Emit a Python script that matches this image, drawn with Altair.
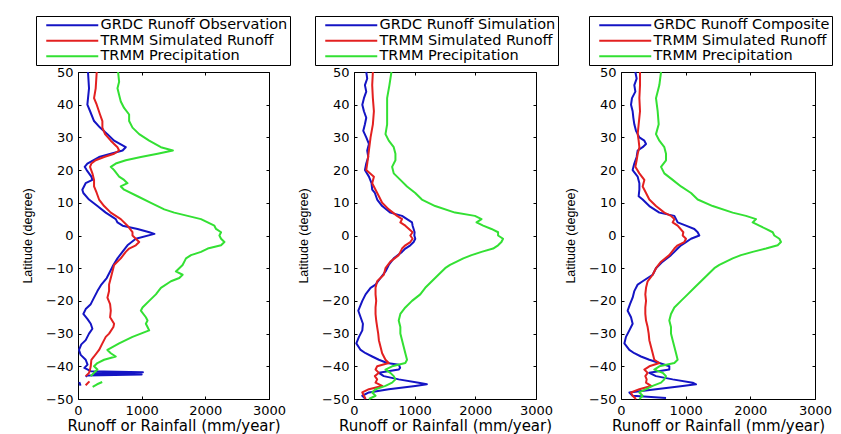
import altair as alt
import pandas as pd

# ---------------- data (latitude, mm/year); None = gap in the curve ----------------
NAMES_1 = ["GRDC Runoff Observation", "TRMM Simulated Runoff", "TRMM Precipitation"]
NAMES_2 = ["GRDC Runoff Simulation", "TRMM Simulated Runoff", "TRMM Precipitation"]
NAMES_3 = ["GRDC Runoff Composite", "TRMM Simulated Runoff", "TRMM Precipitation"]
COLORS = ["#1414c4", "#e32020", "#33e033"]

X_TICKS = [0, 1000, 2000, 3000]
Y_TICKS = [-50, -40, -30, -20, -10, 0, 10, 20, 30, 40, 50]

P1_OBS = [(50,157),(45,173),(40,147),(38,190),(35,252),(33,346),(31,462),(29,567),(27,750),(26,700),
          (25,515),(24,330),(22,147),(21,105),(20,136),(18,210),(17,226),(16,120),(14,68),(13,84),
          (11,173),(9,305),(7,436),(5,593),(4,620),(3,700),(2,935),(1,1120),(0.5,1200),(-1,908),
          (-3,777),(-5,698),(-7,620),(-9,556),(-11,504),(-13,451),(-15,367),(-17,305),(-19,252),(-21,200),
          (-22.5,121),(-24,84),(-25.5,147),(-27,200),(-28.5,226),(-30,173),(-32,121),(-33.3,52),(-35,16),
          (-36.5,42),(-38,121),(-39.5,150),(-40.5,100),(-41.5,200),(-41.8,1020),(-42.2,250),(-42.5,1000),
          (-42.8,150),(-43.2,120),None,(-44.8,20),(-45.9,40)]
P1_SIM = [(50,294),(45,278),(42,252),(40,294),(37,346),(35,383),(33,383),(31,425),(29,515),(27,620),
          (26,646),(25,567),(24,410),(23,278),(22,210),(21,189),(19,226),(17,252),(15,252),(13,294),
          (11,331),(9,410),(7,515),(5,672),(3,777),(1,856),(0,856),(-1,908),(-2,961),(-3,908),(-4,803),
          (-5,750),(-7,672),(-9,567),(-11,541),(-13,515),(-15,488),(-17,488),(-19,462),(-21,504),(-23,515),
          (-25,504),(-27,567),(-28,556),(-30,488),(-31,436),(-33,383),(-35,331),(-37,252),(-38,210),
          (-40,200),(-41,189),(-42,173),(-43,121),None,(-44.6,180),(-45.8,120)]
P1_PRE = [(50,630),(47,646),(45,620),(43,646),(41,672),(39,724),(37,803),(35,803),(33,856),(31,961),
          (29,1118),(27,1302),(26,1490),(25,1250),(24,987),(23,751),(22,593),(21,515),(20,567),(18,646),
          (17,724),(16,777),(15,672),(14,724),(12,935),(10,1145),(8,1355),(7,1512),(6,1722),(5,1932),
          (4,2037),(3,2142),(2,2168),(1,2247),(0,2221),(-1,2247),(-2,2300),(-3,2247),(-4,2037),(-5,1932),
          (-6,1775),(-7,1696),(-9,1643),(-11,1538),(-12,1643),(-13,1591),(-14,1460),(-16,1302),(-18,1223),
          (-20,1118),(-22,1013),(-23,987),(-25,1066),(-26,1092),(-27,1066),(-28,1092),(-29,1118),(-30,987),
          (-31,856),(-33,646),(-35,462),(-36,515),(-37,593),(-38,410),(-39,305),(-40,252),(-41,305),
          (-42,252),(-43,200),None,(-44.8,380),(-45.5,300),(-46.3,230)]

P2_OBS = [(50,202),(48,218),(46,180),(44,202),(42,164),(40,137),(38,164),(36,202),(34,180),(32,153),
          (30,202),(28,246),(26,218),(24,235),(22,202),(20,180),(18,246),(16,289),(14,300),(13,344),
          (11,382),(9,464),(7,600),(6,792),(5,874),(4,956),(3,966),(2,983),(1,999),(0,994),(-1,1010),
          (-2,983),(-3,928),(-4,846),(-5,792),(-7,655),(-9,573),(-11,519),(-13,437),(-15,355),(-16,273),
          (-18,191),(-20,137),(-22,93),(-23,71),(-25,109),(-27,147),(-29,137),(-31,82),(-33,38),(-35,109),
          (-36,191),(-37,300),(-38,410),(-39,546),(-39.5,740),(-40.5,760),(-41,737),(-42,410),(-43,491),
          (-44,737),(-45,1065),(-45.5,1201),(-46,1010),(-47,573),(-48,246),(-49,137),(-50,191)]
P2_SIM = [(50,311),(46,300),(42,311),(38,328),(34,311),(30,273),(26,246),(22,218),(20,202),(18,328),
          (16,300),(14,355),(12,410),(10,464),(8,573),(6,710),(5,792),(4,764),(3,846),(1,966),(0,928),
          (-1,966),(-2,928),(-3,846),(-4,792),(-6,737),(-8,600),(-10,519),(-12,491),(-14,382),(-16,355),
          (-18,355),(-20,366),(-22,355),(-24,355),(-26,366),(-28,382),(-30,399),(-32,410),(-34,437),
          (-36,464),(-38,519),(-39,573),(-40,382),(-41,355),(-42,410),(-43,344),(-44,382),(-45,355),
          (-46,464),(-47,246),(-48,137),(-49,164),(-50,191)]
P2_PRE = [(50,617),(46,584),(42,546),(38,546),(34,546),(31,519),(29,573),(27,655),(25,683),(23,683),
          (21,628),(19,655),(17,764),(15,874),(13,1010),(11,1119),(9,1338),(7,1665),(6,1993),(5,2102),
          (4,2020),(3,2129),(2,2266),(1,2375),(0,2375),(-1,2457),(-2,2430),(-3,2375),(-4,2293),(-5,2102),
          (-6,1938),(-7,1802),(-8,1693),(-9,1583),(-10,1502),(-12,1392),(-14,1283),(-16,1174),(-18,1092),
          (-20,956),(-22,846),(-24,764),(-26,737),(-28,764),(-30,764),(-32,792),(-34,819),(-36,846),
          (-38,874),(-39,846),(-40,628),(-41,519),(-42,600),(-43,655),(-44,683),(-45,628),(-46,519),
          (-47,355),(-48,300),(-49,355),(-50,246)]

P3_OBS = [(50,222),(48,242),(46,206),(44,222),(42,170),(40,155),(38,180),(36,191),(34,206),(32,232),
          (30,284),(29,361),(28,387),(27,335),(26,258),(24,242),(22,206),(20,180),(18,258),(16,284),
          (14,284),(12,273),(11,335),(9,438),(7,593),(6,825),(5,851),(4,876),(3,1005),(2,1134),(1,1186),
          (0,1211),(-1,1083),(-2,1005),(-3,928),(-4,876),(-5,825),(-6,773),(-8,644),(-10,541),(-12,490),
          (-14,335),(-15,258),(-17,206),(-19,180),(-21,139),(-23,103),(-25,155),(-27,180),(-29,129),
          (-31,77),(-33,52),(-35,129),(-36,206),(-37,309),(-38,438),(-39,593),(-40,747),(-41,747),
          (-42,438),(-43,541),(-44,799),(-45,1108),(-45.5,1160),(-46,954),(-47,541),(-48,129),(-49,180),
          (-49.7,696)]
P3_SIM = [(50,294),(46,294),(42,284),(38,294),(34,273),(31,258),(29,273),(27,284),(25,258),(23,242),
          (21,222),(19,284),(17,361),(15,335),(13,387),(11,438),(9,541),(7,670),(6,773),(5,825),(4,799),
          (3,876),(1,964),(0,954),(-1,1005),(-2,979),(-3,876),(-4,825),(-6,747),(-8,619),(-10,541),
          (-12,490),(-14,412),(-16,387),(-18,376),(-20,387),(-22,376),(-24,376),(-26,387),(-28,412),
          (-30,428),(-32,438),(-34,464),(-36,490),(-38,515),(-39,593),(-40,438),(-41,361),(-42,412),
          (-43,376),(-44,397),(-45,387),(-46,464),(-47,284),(-48,155),(-49,180),(-50,232)]
P3_PRE = [(50,619),(46,593),(42,541),(38,567),(34,583),(31,541),(29,593),(27,670),(25,696),(23,696),
          (21,619),(19,670),(17,799),(15,928),(13,1083),(11,1186),(9,1418),(7,1727),(6,1933),(5,2088),
          (4,2036),(3,2139),(2,2242),(1,2346),(0,2371),(-1,2449),(-2,2474),(-3,2423),(-4,2242),(-5,2036),
          (-6,1856),(-7,1727),(-8,1624),(-9,1521),(-10,1443),(-12,1340),(-14,1237),(-16,1134),(-18,1031),
          (-20,928),(-22,825),(-24,773),(-26,747),(-28,773),(-30,773),(-32,799),(-34,825),(-36,851),
          (-38,876),(-39,825),(-40,593),(-41,515),(-42,644),(-43,696),(-44,670),(-45,619),(-46,490),
          (-47,387),(-48,284),(-49,335),(-50,284)]


def to_df(pairs, name):
    rows, seg = [], 0
    for i, p in enumerate(pairs):
        if p is None:
            seg += 1
            continue
        rows.append({"lat": p[0], "value": p[1], "series": name, "seg": seg, "idx": i})
    return pd.DataFrame(rows)


def panel(names, series, width, legend_x):
    xs = alt.Scale(domain=[0, 3000], nice=False, zero=False)
    ys = alt.Scale(domain=[-50, 50], nice=False, zero=False)
    legend = alt.Legend(title=None, orient="none", legendX=legend_x, legendY=-56)
    color = alt.Color("series:N", scale=alt.Scale(domain=names, range=COLORS), legend=legend)

    main_x = alt.Axis(values=X_TICKS, format="d", ticks=False, domain=False, grid=False,
                      labelFlush=False, labelPadding=5, title="Runoff or Rainfall (mm/year)",
                      titlePadding=1)
    main_y = alt.Axis(values=Y_TICKS, ticks=False, domain=False, grid=False, labelFlush=False,
                      labelPadding=5, title="Latitude (degree)", titlePadding=11,
                      titleFont="Liberation Sans", titleFontSize=12.5)
    axes = [
        (main_x, main_y),
        (alt.Axis(orient="top", values=X_TICKS, labels=False, domain=False, grid=False,
                  tickSize=3, offset=-3, title=None),
         alt.Axis(orient="right", values=Y_TICKS, labels=False, domain=False, grid=False,
                  tickSize=3, offset=-3, title=None)),
        (alt.Axis(orient="bottom", values=X_TICKS, labels=False, domain=False, grid=False,
                  tickSize=3, offset=-3, title=None),
         alt.Axis(orient="left", values=Y_TICKS, labels=False, domain=False, grid=False,
                  tickSize=3, offset=-3, title=None)),
    ]
    layers = []
    for k in range(3):
        df = to_df(series[k], names[k])
        ax_x, ax_y = axes[k]
        layers.append(
            alt.Chart(df).mark_line(strokeWidth=2, strokeJoin="round").encode(
                x=alt.X("value:Q", scale=xs, axis=ax_x),
                y=alt.Y("lat:Q", scale=ys, axis=ax_y),
                color=color,
                detail="seg:N",
                order="idx:Q",
            )
        )
    return (alt.layer(*layers)
            .properties(width=width, height=327)
            .resolve_axis(x="independent", y="independent"))


p1 = panel(NAMES_1, [P1_OBS, P1_SIM, P1_PRE], 191, -42)
p2 = panel(NAMES_2, [P2_OBS, P2_SIM, P2_PRE], 182, -39)
p3 = panel(NAMES_3, [P3_OBS, P3_SIM, P3_PRE], 194, -32)

chart = (
    alt.hconcat(p1, p2, p3, spacing=85, bounds="flush")
    .resolve_scale(color="independent")
    .properties(padding={"left": 13, "top": 7, "right": 0, "bottom": 0}, background="white")
    .configure_view(stroke="black", strokeWidth=1)
    .configure_axis(labelFont="DejaVu Sans", labelFontSize=13, labelColor="black",
                    titleFont="DejaVu Sans", titleFontSize=15, titleColor="black",
                    titleFontWeight="normal", tickColor="black", tickWidth=1)
    .configure_legend(strokeColor="black", fillColor="white", padding=2, rowPadding=0.5,
                      cornerRadius=0, symbolType="M0.2,0H10.6", symbolSize=100,
                      symbolStrokeWidth=2, labelOffset=48, labelFont="DejaVu Sans",
                      labelFontSize=14.5, labelColor="black", labelLimit=400)
)

chart.save("out.html", embed_options={"renderer": "svg", "actions": False})
